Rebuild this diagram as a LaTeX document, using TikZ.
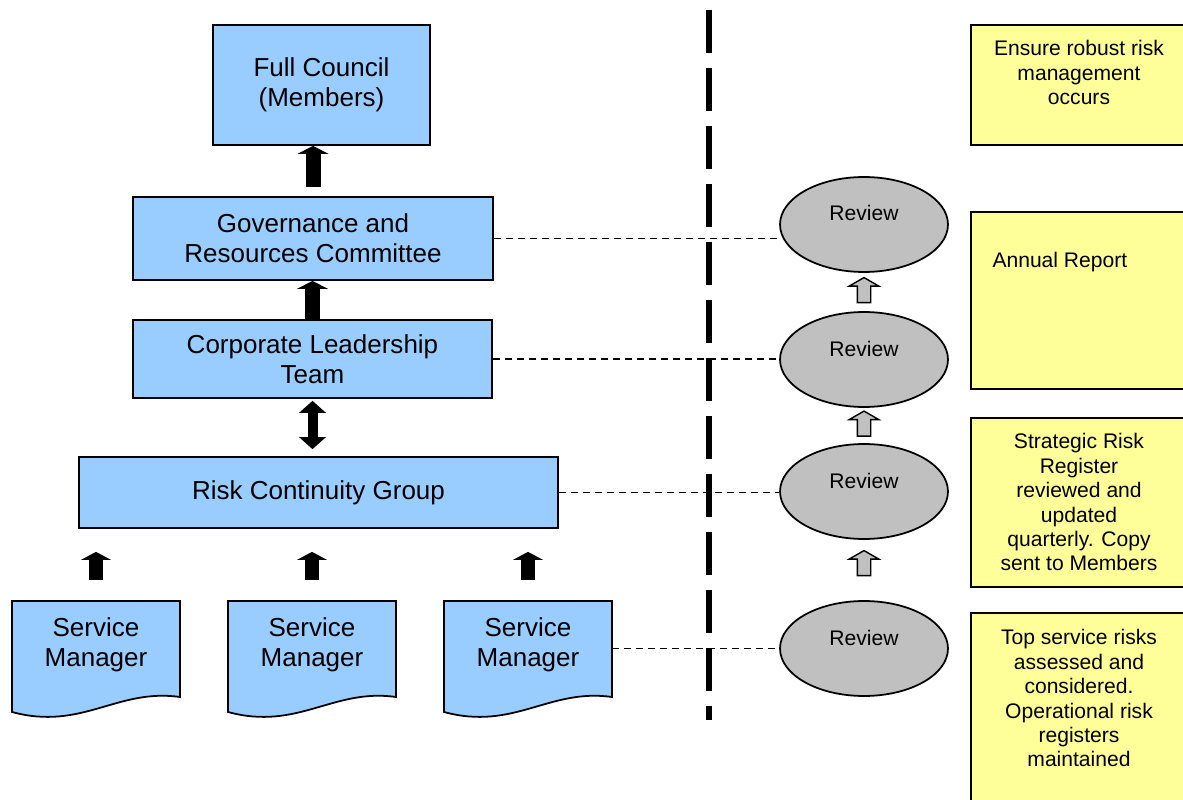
\documentclass[tikz,border=0pt]{standalone}
\usepackage{fontspec}
\setmainfont{Liberation Sans}
\usetikzlibrary{arrows.meta,positioning,calc,shapes.geometric,shapes.arrows}
\definecolor{boxblue}{RGB}{153,204,255}
\definecolor{noteyellow}{RGB}{255,255,153}
\definecolor{reviewgrey}{RGB}{192,192,192}
\begin{document}
\begin{tikzpicture}[line cap=butt,line join=miter,x=0.02cm,y=-0.02cm,
  bigfont/.style={font=\fontsize{14.8}{17.1}\selectfont},
  smallfont/.style={font=\fontsize{12}{13.9}\selectfont},
  bluebox/.style={draw,line width=1pt,fill=boxblue,align=center,bigfont,inner sep=0pt},
  doctext/.style={align=center,bigfont,inner sep=0pt,minimum width=3.36cm,minimum height=1.68cm},
  review/.style={ellipse,draw,line width=1pt,fill=reviewgrey,minimum width=3.36cm,minimum height=1.9cm,smallfont,text height=0.32cm,text depth=0.46cm,inner sep=0pt},
  notebox/.style={draw,line width=1pt,fill=noteyellow,minimum width=4.32cm},
  notetext/.style={align=center,smallfont,inner sep=0pt},
  greyarrow/.style={single arrow,draw,line width=0.8pt,fill=reviewgrey,shape border rotate=90,minimum height=0.5cm,inner sep=0.12cm,single arrow head extend=0.16cm,single arrow tip angle=120},
  uparrow/.style={line width=0.3cm,-{Triangle[width=0.62cm,length=0.16cm,line width=0pt]}},
  smallup/.style={line width=0.28cm,-{Triangle[width=0.6cm,length=0.16cm,line width=0pt]}},
  bothways/.style={line width=0.2cm,{Triangle[width=0.54cm,length=0.24cm,line width=0pt]}-{Triangle[width=0.54cm,length=0.24cm,line width=0pt]}},
  dashline/.style={line width=0.7pt,dash pattern=on 0.14cm off 0.1cm}]
\useasboundingbox (0,0) rectangle (1183,800);
\clip (0,0) rectangle (1183,800);
% hierarchy
\node[bluebox,minimum width=4.34cm,minimum height=2.4cm] (council) at (321.5,85) {Full Council\\(Members)};
\node[bluebox,minimum width=7.2cm,minimum height=1.66cm] (gov) at (313,238.5) {Governance and\\Resources Committee};
\node[bluebox,minimum width=7.18cm,minimum height=1.56cm] (clt) at (312.5,359) {Corporate Leadership\\Team};
\node[bluebox,minimum width=9.58cm,minimum height=1.42cm] (rcg) at (318.5,492.5) {Risk Continuity Group};
\foreach \x/\n in {12/1,228/2,444/3}{
  \draw[line width=1pt,fill=boxblue] (\x,601) -- (\x+168,601) -- (\x+168,697) .. controls (\x+105,688) and (\x+70,731) .. (\x,712) -- cycle;
  \node[doctext] (sm\n) at (\x+84,645) {Service\\Manager};
}
\draw[uparrow,shorten <=0.18cm] (gov.north) -- (gov.north |- council.south);
\draw[uparrow] (clt.north) -- (clt.north |- gov.south);
\draw[bothways,shorten <=0.04cm,shorten >=0.14cm] (clt.south) -- (clt.south |- rcg.north);
\foreach \n in {1,2,3}
  \draw[smallup,shorten <=0.46cm,shorten >=0.46cm] (sm\n.north) -- (sm\n.north |- rcg.south);
% divider
\draw[line width=0.11cm,dash pattern=on 0.86cm off 0.3cm] (709,10) -- (709,720);
% reviews
\node[review] (rev1) at (864,224.5) {Review};
\node[review] (rev2) at (864,359.5) {Review};
\node[review] (rev3) at (864,491.5) {Review};
\node[review] (rev4) at (864,648.5) {Review};
\node[greyarrow] (up1) at ($(rev1.south)!0.5!(rev2.north)$) {};
\node[greyarrow] (up2) at ($(rev2.south)!0.5!(rev3.north)$) {};
\node[greyarrow] (up3) at ([yshift=0.1cm]$(rev3.south)!0.5!(rev4.north)$) {};
\draw[dashline] (gov.east) -- (gov.east -| rev1.west);
\draw[dashline] (clt.east) -- (clt.east -| rev2.west);
\draw[dashline] (rcg.east) -- (rcg.east -| rev3.west);
\draw[dashline] (sm3.east |- rev4.west) -- (rev4.west);
% notes
\node[notebox,minimum height=2.4cm] (note1) at (1079,85) {};
\node[notebox,minimum height=3.54cm] (note2) at (1079,300.5) {};
\node[notebox,minimum height=3.38cm] (note3) at (1079,502.5) {};
\node[notebox,minimum height=3.94cm] (note4) at (1079,711.5) {};
\node[notetext,below=0.32cm of note1.north] (txt1) {Ensure robust risk\\management\\occurs};
\node[notetext,anchor=north west,below right=0.82cm and 0.44cm of note2.north west] (txt2) {Annual Report};
\node[notetext,below=0.32cm of note3.north] (txt3) {Strategic Risk\\Register\\reviewed and\\updated\\quarterly. Copy\\sent to Members};
\node[notetext,below=0.34cm of note4.north] (txt4) {Top service risks\\assessed and\\considered.\\Operational risk\\registers\\maintained};
\end{tikzpicture}
\end{document}
